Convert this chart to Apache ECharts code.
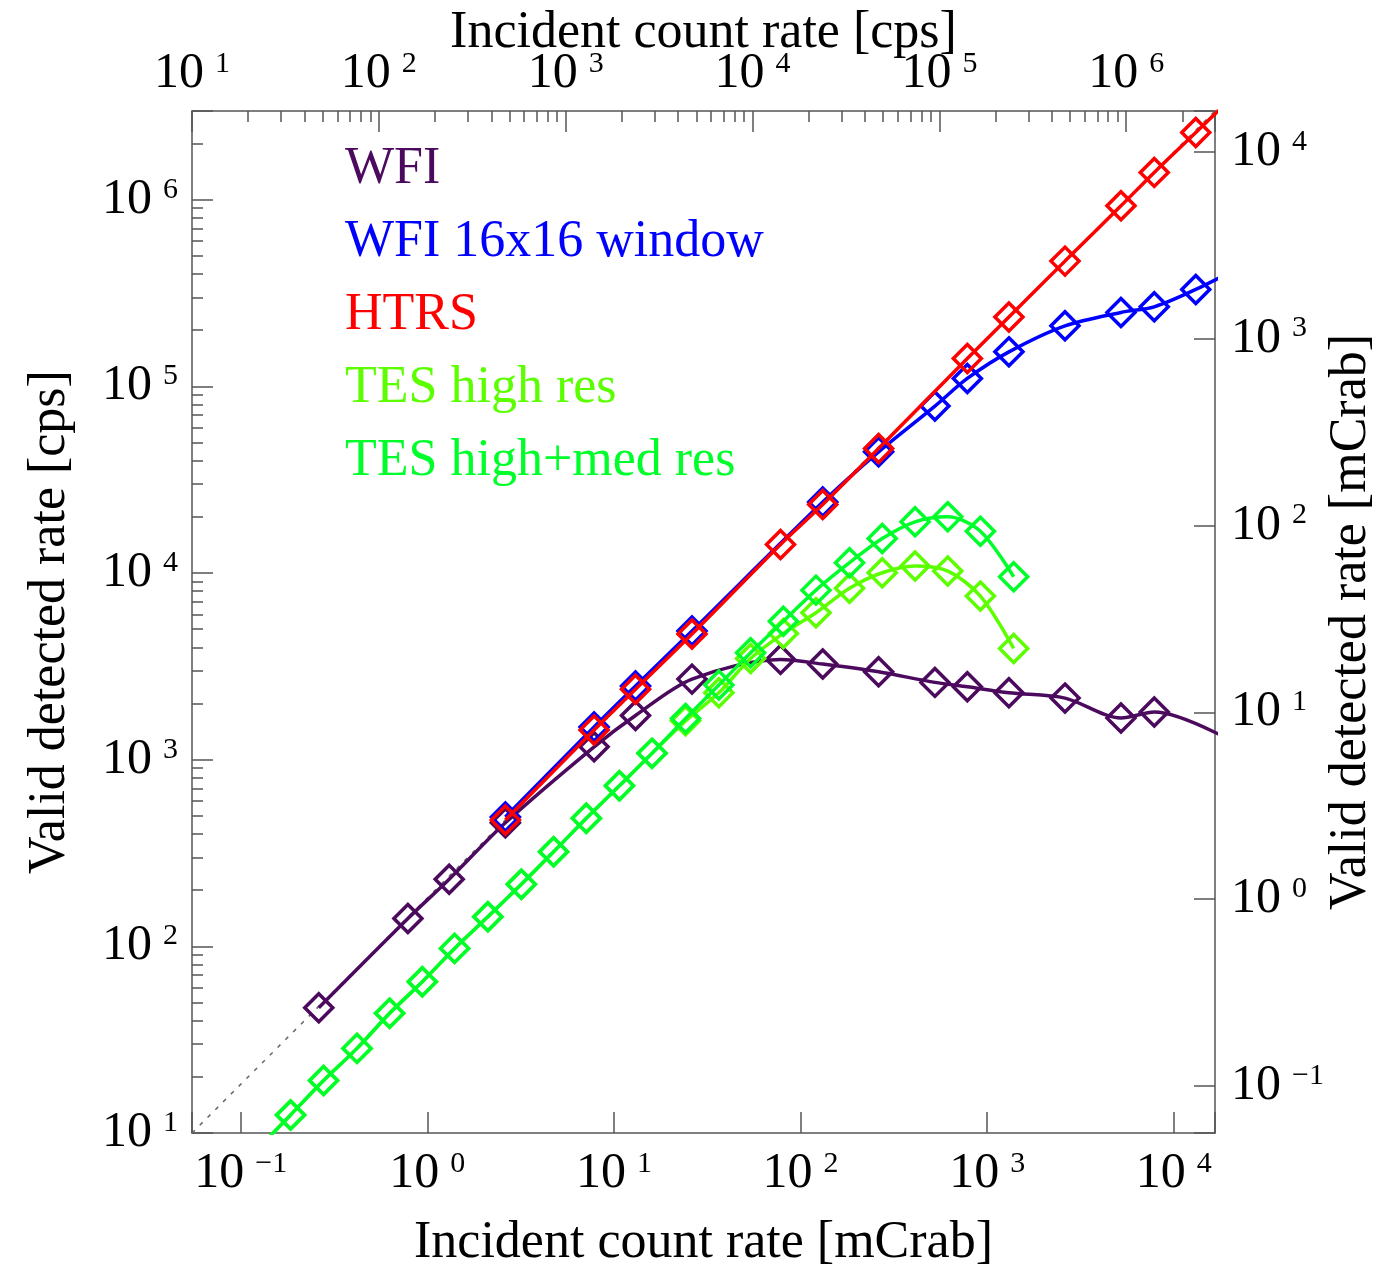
<!DOCTYPE html>
<html>
<head>
<meta charset="utf-8">
<script src="https://cdn.jsdelivr.net/npm/echarts@6/dist/echarts.min.js"></script>
<style>
  html, body { margin: 0; padding: 0; background: #ffffff; }
  #chart { width: 1377px; height: 1266px; }
</style>
</head>
<body>
<div id="chart"></div>
<script>
// Incident rate in mCrab (bottom axis) against valid detected rate in cps (left axis).
const wfiX = [0.262, 0.787, 1.31, 2.62, 7.83, 13.05, 26.2, 78.1, 131.5, 262, 525, 783, 1308, 2613, 5214, 7862, 26200];
const wfiY = [46.9, 141, 229, 459, 1172, 1725, 2701, 3445, 3251, 2956, 2594, 2456, 2281, 2137, 1671, 1799, 1099];

const wfiWinX = [2.62, 7.83, 13.05, 26.2, 131.5, 262, 525, 783, 1308, 2613, 5214, 7862, 13120, 26200];
const wfiWinY = [493, 1497, 2479, 4890, 23990, 44570, 78370, 110200, 153000, 211000, 248800, 266700, 330400, 470000];

const htrsX = [2.62, 7.83, 13.05, 26.2, 78.1, 131.5, 262, 783, 1308, 2613, 5214, 7862, 13120, 26200];
const htrsY = [475, 1442, 2383, 4710, 14230, 23290, 46460, 140900, 235400, 468600, 926600, 1400000, 2290000, 4480000];

const tesX = [0.123, 0.185, 0.278, 0.420, 0.628, 0.940, 1.40, 2.11, 3.19, 4.75, 7.11, 10.7, 16.0, 24.2, 36.5, 54.0, 80.9, 121, 183, 274, 411, 615, 920, 1387];
const tesHighY = [8.2, 12.5, 19.1, 28.4, 43.8, 64.6, 97.5, 144, 215, 321, 485, 725, 1081, 1614, 2281, 3480, 4745, 6120, 8280, 10030, 10890, 10240, 7520, 3944];
const tesHighMedY = [8.2, 12.5, 19.1, 28.4, 43.8, 64.6, 97.5, 144, 215, 321, 485, 725, 1081, 1663, 2510, 3740, 5518, 8095, 11350, 15300, 18800, 19990, 16750, 9550];

// One-to-one reference (incident cps = detected cps)
const unityCps = [10, 3200000];

// Axis ranges (powers of ten)
const mCrabRange = [-1.261, 4.221];
const cpsRange = [1, 6.475];

const seriesNames = ['WFI', 'WFI 16x16 window', 'HTRS', 'TES high res', 'TES high+med res'];
const seriesColors = ['#4b0a5e', '#0000ff', '#ff0000', '#5cff00', '#00ff2a'];

const FONT = '"Liberation Serif", "Times New Roman", serif';
const AXIS_GRAY = '#555555';

function powLabel(v) {
  const e = Math.log10(v);
  const r = Math.round(e);
  if (Math.abs(e - r) > 1e-6) return '';
  const s = r < 0 ? '\u2212' + (-r) : String(r);
  return '{b|10}{s|' + s + '}';
}

const labelRich = {
  b: { fontFamily: FONT, fontSize: 50, color: '#000', lineHeight: 50, verticalAlign: 'bottom' },
  s: { fontFamily: FONT, fontSize: 30, color: '#000', lineHeight: 30, verticalAlign: 'top', padding: [0, 0, 4, 11] }
};

function logAxis(position, range, minor, margin, extra) {
  return Object.assign({
    type: 'log',
    logBase: 10,
    position: position,
    min: Math.pow(10, range[0]),
    max: Math.pow(10, range[1]),
    axisLine: { show: true, onZero: false, lineStyle: { color: AXIS_GRAY, width: 1.5 } },
    axisTick: { show: true, inside: true, length: 21, lineStyle: { color: AXIS_GRAY, width: 1.5 } },
    minorTick: { show: minor, splitNumber: 9, length: 11, lineStyle: { color: AXIS_GRAY, width: 1.5 } },
    splitLine: { show: false },
    minorSplitLine: { show: false },
    axisLabel: { show: true, margin: margin, formatter: powLabel, rich: labelRich },
    nameTextStyle: { fontFamily: FONT, fontSize: 52, color: '#000' },
    nameLocation: 'middle',
    nameMoveOverlap: false
  }, extra);
}

function pairs(xs, ys) { return xs.map((x, i) => [x, ys[i]]); }

function dataSeries(idx, xs, ys) {
  const c = seriesColors[idx];
  return {
    name: seriesNames[idx],
    type: 'line',
    xAxisIndex: 0,
    yAxisIndex: 0,
    data: pairs(xs, ys),
    smooth: 0.3,
    clip: true,
    symbol: 'diamond',
    symbolSize: 28,
    showAllSymbol: true,
    lineStyle: { color: c, width: 3.5 },
    itemStyle: { color: 'rgba(0,0,0,0)', borderColor: c, borderWidth: 3.5 },
    emphasis: { disabled: true },
    z: 3 + idx
  };
}

const chart = echarts.init(document.getElementById('chart'), null, { renderer: 'canvas' });

chart.setOption({
  animation: false,
  backgroundColor: '#ffffff',
  grid: { left: 192, top: 111, width: 1023, height: 1022, containLabel: false, outerBoundsMode: 'none' },
  xAxis: [
    logAxis('bottom', mCrabRange, false, 16, {
      name: 'Incident count rate [mCrab]', nameGap: 84
    }),
    logAxis('top', cpsRange, true, 12, {
      name: 'Incident count rate [cps]', nameGap: 52
    })
  ],
  yAxis: [
    logAxis('left', cpsRange, true, 14, {
      name: 'Valid detected rate [cps]', nameGap: 116, nameRotate: 90
    }),
    logAxis('right', mCrabRange, false, 16, {
      name: 'Valid detected rate [mCrab]', nameGap: 110, nameRotate: 90,
      min: Math.pow(10, -1.2515), max: Math.pow(10, 4.218)
    })
  ],
  legend: {
    show: true,
    orient: 'vertical',
    left: 335,
    top: 134,
    icon: 'none',
    itemWidth: 0,
    itemHeight: 0,
    itemGap: 13,
    selectedMode: false,
    textStyle: { fontFamily: FONT, fontSize: 52, lineHeight: 60 },
    data: seriesNames.map((n, i) => ({ name: n, textStyle: { color: seriesColors[i] } }))
  },
  series: [
    {
      name: 'unity',
      type: 'line',
      xAxisIndex: 1,
      yAxisIndex: 0,
      data: unityCps.map(v => [v, v]),
      symbol: 'none',
      clip: true,
      lineStyle: { color: '#666666', width: 1.5, type: [4, 7] },
      emphasis: { disabled: true },
      z: 1
    },
    dataSeries(0, wfiX, wfiY),
    dataSeries(1, wfiWinX, wfiWinY),
    dataSeries(2, htrsX, htrsY),
    dataSeries(3, tesX, tesHighY),
    dataSeries(4, tesX, tesHighMedY)
  ]
});
</script>
</body>
</html>
